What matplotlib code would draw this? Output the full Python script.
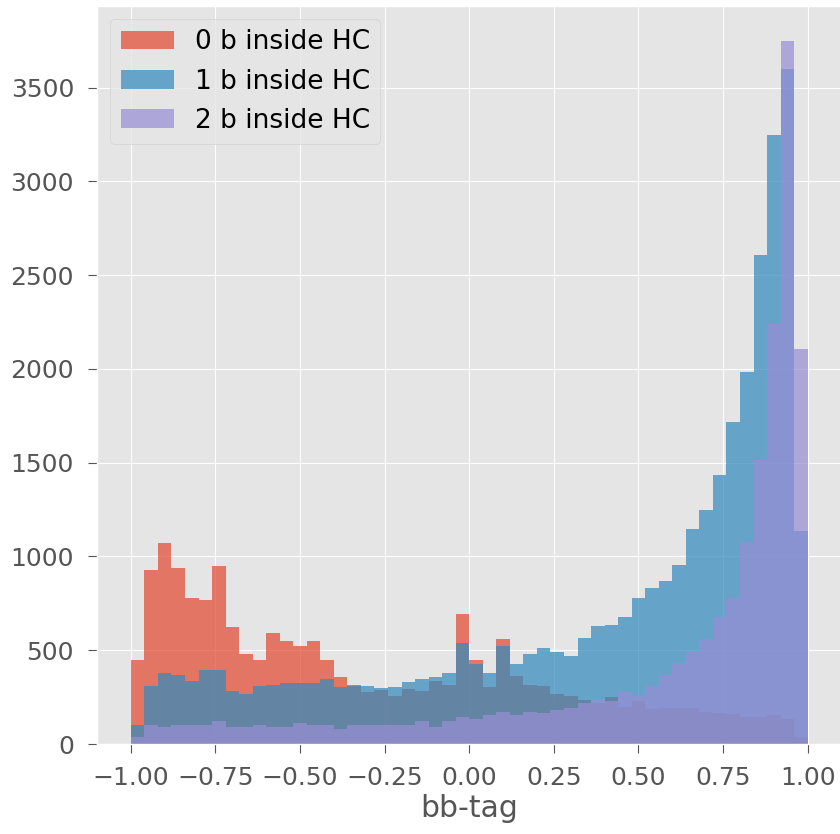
import numpy as np
import matplotlib
matplotlib.use("Agg")
import matplotlib.pyplot as plt

plt.style.use("ggplot")

edges = np.linspace(-1, 1, 51)
labels = ["0 b inside HC", "1 b inside HC", "2 b inside HC"]

counts_0b = [450, 929, 1073, 940, 777, 766, 950, 622, 480, 449,
             592, 551, 520, 551, 449, 356, 310, 277, 287, 255,
             294, 285, 337, 316, 695, 450, 305, 560, 365, 316,
             307, 264, 255, 236, 218, 248, 196, 227, 186, 191,
             191, 191, 173, 164, 161, 143, 143, 152, 134, 39]

counts_1b = [101, 307, 378, 367, 337, 397, 397, 285, 266, 307,
             317, 326, 326, 326, 346, 305, 316, 307, 296, 305,
             328, 348, 358, 376, 541, 429, 376, 521, 429, 479,
             511, 493, 470, 565, 627, 637, 677, 780, 830, 870,
             952, 1147, 1250, 1432, 1717, 1985, 2607, 3250, 3600, 1137]

counts_2b = [39, 99, 92, 99, 99, 99, 122, 92, 92, 99,
             92, 92, 112, 103, 103, 82, 101, 101, 101, 101,
             101, 121, 92, 121, 142, 131, 152, 172, 152, 172,
             163, 183, 193, 218, 236, 227, 275, 262, 307, 370,
             432, 491, 562, 677, 780, 1077, 1517, 2240, 3750, 2107]

centers = 0.5 * (edges[:-1] + edges[1:])

fig = plt.figure(figsize=(8.4, 8.34), dpi=100)
ax = fig.add_axes([97 / 840, 90 / 834, (841.5 - 97) / 840, (744 - 5.6) / 834])

for c, lab in zip([counts_0b, counts_1b, counts_2b], labels):
    ax.hist(centers, bins=edges, weights=c, alpha=0.72, label=lab,
            histtype="stepfilled")

ax.set_xticks([-1.0, -0.75, -0.5, -0.25, 0.0, 0.25, 0.5, 0.75, 1.0])
ax.set_yticks([0, 500, 1000, 1500, 2000, 2500, 3000, 3500])
ax.tick_params(axis="both", labelsize=18, length=6.5)
ax.tick_params(axis="x", pad=9)
ax.tick_params(axis="y", pad=10)
ax.set_xlabel("bb-tag", fontsize=21.5, labelpad=3)
ax.legend(loc="upper left", fontsize=19)

fig.savefig("out.png", dpi=100)
